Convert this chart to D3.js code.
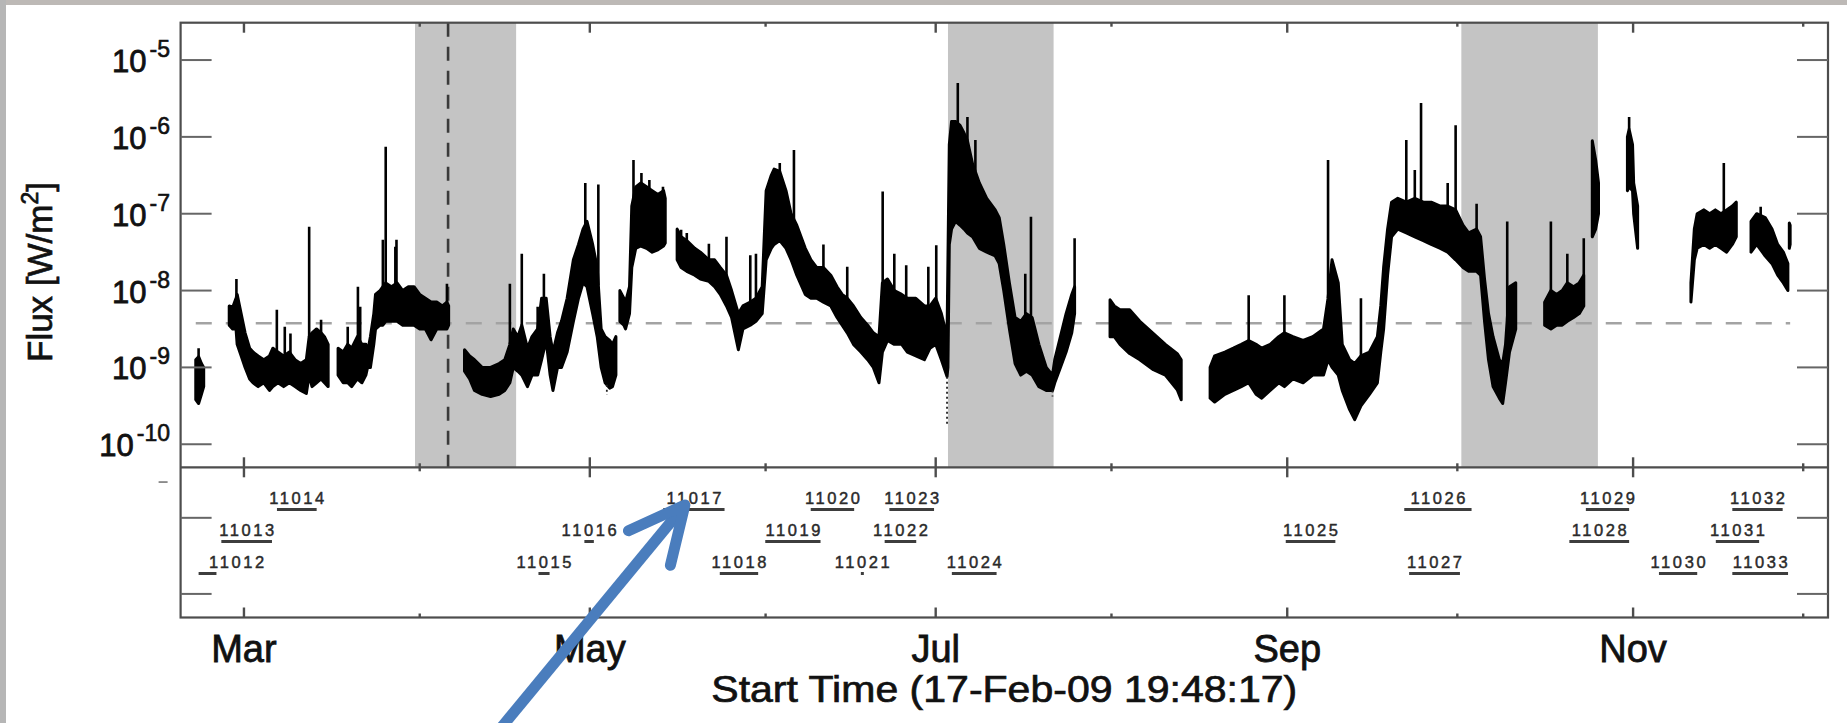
<!DOCTYPE html>
<html><head><meta charset="utf-8">
<script src="https://cdn.jsdelivr.net/npm/d3@7"></script>
<style>body{margin:0;background:#fff;}svg{display:block;}</style>
</head><body>
<svg id="c" width="1847" height="723"></svg>
<script>
// ---------------- DATA ----------------
// times are days after 2009-03-01 00:00 UT; flux values are log10(W/m^2)
const startTime = "2009-02-17T19:48:17Z";
const spanDays = 290.55;
const yTickExponents = [-5, -6, -7, -8, -9, -10];
const monthLabels = ["Mar", "May", "Jul", "Sep", "Nov"];
const thresholdFlux = 3.75e-9;
const markerDate = "2009-04-06T00:00:00Z";
const shadeStart = ["2009-03-31T04:00:00Z", "2009-07-03T04:00:00Z", "2009-10-01T17:00:00Z"];
const shadeEnd   = ["2009-04-18T00:00:00Z", "2009-07-21T19:00:00Z", "2009-10-25T19:00:00Z"];

// envelope of the dense flux record: [day, log10 low, log10 high]; null = data gap
const fluxBand = [
  [-8.5,-9.42,-8.9],[-8.0,-9.47,-8.86],[-7.5,-9.35,-8.95],[-7.1,-9.25,-9.0],
  null,
  [-2.6,-8.45,-8.2],[-2.0,-8.5,-8.22],[-1.4,-8.5,-8.1],[-1.2,-8.7,-8.05],[-0.5,-8.85,-8.3],[0.2,-9.0,-8.55],
  [1.0,-9.15,-8.75],[1.6,-9.2,-8.8],[2.5,-9.25,-8.85],[3.5,-9.2,-8.9],[4.5,-9.3,-8.85],[5.1,-9.25,-8.75],
  [6.0,-9.2,-8.8],[7.0,-9.25,-8.85],[8.0,-9.2,-8.8],[9.0,-9.25,-8.9],[10.0,-9.3,-8.95],[11.0,-9.34,-8.9],
  [11.5,-9.1,-8.6],[12.0,-9.25,-8.55],[12.8,-9.2,-8.5],[13.6,-9.15,-8.55],[14.2,-9.2,-8.6],[14.85,-9.25,-8.7],
  null,
  [16.6,-9.1,-8.75],[17.5,-9.2,-8.8],[18.3,-9.2,-8.7],[19.0,-9.25,-8.75],[20.0,-9.15,-8.6],[20.8,-9.2,-8.7],
  [21.5,-9.1,-8.7],[21.8,-9.0,-8.8],[22.3,-9.0,-8.6],[22.9,-8.7,-8.3],[23.2,-8.5,-8.05],[24.0,-8.45,-8.0],
  [24.5,-8.45,-7.95],[25.0,-8.4,-7.9],[26.0,-8.4,-7.95],[27.0,-8.4,-7.9],[28.0,-8.45,-8.0],[29.0,-8.45,-7.95],
  [30.0,-8.45,-7.95],[31.0,-8.5,-8.05],[32.0,-8.5,-8.1],[33.0,-8.64,-8.15],[34.0,-8.5,-8.15],[35.0,-8.5,-8.2],
  [35.8,-8.5,-8.15],[36.1,-8.45,-8.2],
  null,
  [38.9,-9.05,-8.77],[39.8,-9.15,-8.85],[40.65,-9.3,-8.9],[42.0,-9.35,-9.0],[43.5,-9.38,-9.0],[45.0,-9.35,-8.95],
  [46.0,-9.3,-8.9],[46.9,-9.2,-8.7],[47.5,-9.0,-8.5],[48.3,-9.05,-8.6],[49.0,-9.1,-8.45],[50.0,-9.25,-8.75],
  [50.8,-9.1,-8.6],[51.8,-9.1,-8.5],[52.5,-8.9,-8.1],[53.3,-8.65,-8.1],[54.0,-9.1,-8.6],[54.5,-9.3,-8.8],
  [55.3,-9.0,-8.55],[56.0,-9.0,-8.4],[57.0,-8.8,-8.1],[58.1,-8.4,-7.6],[59.0,-8.1,-7.4],[59.8,-7.9,-7.2],
  [60.5,-7.95,-7.1],[61.5,-8.3,-7.4],[62.3,-8.6,-7.7],[63.0,-9.0,-8.5],[63.7,-9.2,-8.6],[64.5,-9.27,-8.65],
  [65.0,-9.25,-8.7],[65.6,-9.1,-8.6],
  null,
  [66.3,-8.4,-8.0],[67.0,-8.45,-8.1],[67.3,-8.5,-8.15],[68.0,-8.3,-7.95],[68.4,-7.7,-6.9],[69.1,-7.45,-6.65],
  [70.0,-7.42,-6.6],[71.0,-7.45,-6.65],[72.0,-7.5,-6.7],[73.0,-7.47,-6.75],[74.0,-7.42,-6.7],[74.3,-7.38,-6.8],
  null,
  [76.4,-7.6,-7.2],[77.1,-7.7,-7.3],[78.1,-7.75,-7.35],[79.5,-7.8,-7.45],[80.5,-7.85,-7.5],[82.0,-7.88,-7.6],
  [83.0,-7.95,-7.6],[84.0,-8.05,-7.7],[85.1,-8.2,-7.8],[86.0,-8.35,-8.0],[87.2,-8.77,-8.3],[88.0,-8.5,-8.2],
  [89.3,-8.45,-8.15],[90.3,-8.4,-8.1],[91.4,-8.3,-7.95],[92.1,-7.6,-6.7],[93.0,-7.45,-6.5],[93.5,-7.4,-6.42],
  [94.5,-7.35,-6.45],[95.6,-7.45,-6.7],[96.5,-7.6,-7.0],[97.5,-7.8,-7.15],[99.0,-8.05,-7.45],[100.0,-8.1,-7.6],
  [101.0,-8.1,-7.7],[102.2,-8.15,-7.7],[103.5,-8.2,-7.8],[104.6,-8.35,-7.95],[105.5,-8.45,-8.05],[106.4,-8.55,-8.1],
  [107.5,-8.7,-8.2],[108.8,-8.8,-8.35],[110.0,-8.9,-8.45],[111.0,-9.0,-8.55],[112.0,-9.2,-8.6],[112.6,-8.8,-7.9],
  [113.5,-8.65,-7.85],[114.7,-8.7,-8.0],[116.0,-8.7,-8.05],[117.0,-8.8,-8.1],[118.5,-8.85,-8.1],[120.0,-8.9,-8.2],
  [121.0,-8.75,-8.2],[122.0,-8.7,-8.1],[123.0,-8.9,-8.3],[124.0,-9.12,-8.6],[124.16,-9.0,-7.6],[124.4,-7.4,-6.1],
  [124.8,-7.2,-5.8],[125.5,-7.1,-5.8],[126.3,-7.15,-5.85],[127.0,-7.2,-5.95],[127.6,-7.25,-6.05],[128.5,-7.3,-6.35],
  [129.7,-7.45,-6.6],[131.0,-7.5,-6.8],[132.5,-7.55,-6.95],[133.2,-7.65,-7.05],[134.0,-8.0,-7.4],[135.0,-8.5,-7.9],
  [136.0,-8.95,-8.35],[137.0,-9.1,-8.4],[138.0,-9.05,-8.3],[139.0,-9.1,-8.35],[140.2,-9.25,-8.7],[141.5,-9.3,-9.0],
  [142.6,-9.3,-9.1],[143.0,-9.2,-8.9],[144.0,-9.0,-8.6],[145.0,-8.8,-8.3],[146.0,-8.55,-8.05],[146.5,-8.3,-7.95],
  null,
  [152.75,-8.6,-8.12],[153.5,-8.6,-8.2],[154.5,-8.7,-8.25],[156.2,-8.82,-8.25],[158.0,-8.9,-8.4],[160.4,-9.03,-8.56],
  [162.5,-9.1,-8.7],[164.6,-9.29,-8.82],[165.3,-9.42,-8.9],
  null,
  [170.4,-9.4,-9.0],[171.2,-9.45,-8.85],[173.0,-9.35,-8.8],[174.5,-9.3,-8.75],[175.9,-9.25,-8.7],[177.2,-9.2,-8.65],
  [178.5,-9.35,-8.7],[179.5,-9.4,-8.75],[181.0,-9.3,-8.7],[182.5,-9.2,-8.6],[183.5,-9.25,-8.55],[185.0,-9.15,-8.6],
  [186.8,-9.2,-8.65],[188.5,-9.1,-8.6],[190.4,-9.1,-8.5],[191.2,-8.9,-8.1],[191.9,-9.0,-7.6],[193.0,-9.1,-7.9],
  [193.7,-9.3,-8.7],[195.0,-9.55,-8.9],[195.9,-9.68,-8.95],[197.0,-9.5,-8.85],[198.5,-9.35,-8.8],[199.9,-9.2,-8.6],
  [200.5,-8.8,-8.2],[201.0,-8.5,-7.7],[201.7,-7.8,-7.2],[202.4,-7.3,-6.85],[203.5,-7.2,-6.8],[205.0,-7.25,-6.85],
  [206.5,-7.3,-6.8],[208.0,-7.35,-6.85],[209.4,-7.4,-6.85],[211.0,-7.45,-6.9],[212.3,-7.5,-6.9],[213.7,-7.6,-6.95],
  [215.0,-7.7,-7.15],[216.0,-7.75,-7.25],[217.4,-7.75,-7.2],[218.1,-7.8,-7.3],[218.8,-8.4,-7.85],[219.5,-8.9,-8.3],
  [220.3,-9.25,-8.6],[221.4,-9.4,-8.9],[222.0,-9.47,-8.95],[222.5,-9.2,-8.7],[223.2,-8.8,-7.95],[224.3,-8.5,-7.9],
  null,
  [229.4,-8.45,-8.15],[230.5,-8.5,-8.0],[231.5,-8.45,-8.05],[232.5,-8.45,-8.0],[233.4,-8.4,-7.9],[234.5,-8.35,-7.95],
  [235.5,-8.3,-7.9],[236.3,-8.2,-7.8],
  null,
  [237.8,-7.3,-6.05],[238.4,-7.2,-6.3],[238.9,-7.0,-6.6],
  null,
  [244.0,-6.7,-6.0],[244.3,-6.65,-5.9],[244.9,-6.7,-6.1],[245.1,-7.0,-6.6],[245.8,-7.45,-6.9],
  null,
  [255.2,-8.15,-7.9],[255.8,-7.6,-7.2],[256.3,-7.45,-7.0],[257.5,-7.4,-6.95],[258.5,-7.45,-7.0],[259.5,-7.4,-6.95],
  [260.5,-7.45,-7.0],[261.5,-7.5,-6.95],[262.5,-7.4,-6.9],[263.2,-7.3,-6.85],
  null,
  [265.8,-7.5,-7.1],[266.8,-7.4,-7.0],[268.3,-7.55,-7.05],[269.5,-7.65,-7.2],[270.5,-7.8,-7.4],[271.5,-7.9,-7.5],
  [272.3,-8.0,-7.65],
  null,
  [272.55,-7.45,-7.12],[272.7,-7.4,-7.15]
];

// isolated flare spikes: [day, log10 peak]
const fluxSpikes = [
  [-8.0,-8.75],[-1.33,-7.85],[5.8,-8.25],[7.2,-8.47],[8.2,-8.56],[11.5,-7.17],[13.6,-8.38],
  [18.3,-8.47],[20.1,-7.95],[20.5,-8.21],[24.5,-7.34],[25.0,-6.13],[26.7,-7.43],[26.9,-7.34],[35.8,-7.91],
  [46.9,-7.91],[49.0,-7.52],[51.8,-8.21],[52.9,-7.78],[60.2,-6.60],[62.5,-6.62],
  [68.7,-6.30],[70.1,-6.47],[71.5,-6.56],[73.9,-6.65],
  [77.1,-7.21],[78.1,-7.25],[82.0,-7.39],[85.1,-7.30],[89.3,-7.54],[90.3,-7.52],[94.5,-6.34],[97.0,-6.17],
  [102.2,-7.40],[106.4,-7.69],[112.65,-6.71],[114.7,-7.52],[116.8,-7.67],[120.7,-7.69],[122.1,-7.41],
  [125.9,-5.30],[127.6,-5.74],[129.0,-6.04],[137.8,-7.78],[138.8,-7.04],[146.5,-7.32],
  [177.2,-8.06],[183.5,-8.06],[191.2,-6.30],[197.0,-8.10],[205.0,-6.04],[206.5,-6.43],[207.6,-5.56],
  [212.3,-6.60],[213.7,-5.85],[217.4,-6.87],[222.8,-7.10],
  [230.5,-7.10],[233.4,-7.52],[236.3,-7.32],[244.3,-5.74],[261.0,-6.34],[267.5,-6.91]
];
// low outliers: [day, log10 value]
const fluxDips = [[64.0,-9.36],[124.0,-9.77],[142.6,-9.38]];

// NOAA active regions and their disk passage (days after 2009-03-01)
const arNumbers = ["11012","11013","11014","11015","11016","11017","11018","11019","11020","11021","11022",
                   "11023","11024","11025","11026","11027","11028","11029","11030","11031","11032","11033"];
const arStart = [-8.0,-3.99,5.82,51.94,60.04,73.95,83.92,91.94,99.96,108.8,113.0,
                 113.83,124.85,183.74,204.64,205.5,233.76,236.67,249.56,259.59,262.5,262.5];
const arEnd   = [-4.85,4.94,12.82,53.90,61.71,84.76,90.69,101.69,107.62,109.3,118.57,
                 121.71,132.74,192.49,216.51,214.46,244.30,244.30,256.31,267.23,271.38,272.33];
const arrowTarget = "11017";

// ---------------- LAYOUT ----------------
const L = 180.6, R = 1828, T = 22.7, MID = 467.3, B = 617.5;
const FONT = "'Liberation Sans', Arial, Helvetica, sans-serif";
const mar1 = Date.UTC(2009, 2, 1);
const toDate = d => new Date(mar1 + d * 864e5);
const t0 = new Date(startTime);

const x = d3.scaleUtc().domain([t0, new Date(t0.getTime() + spanDays * 864e5)]).range([L, R]);
const y = d3.scaleLog().domain([Math.pow(10, -10.30), Math.pow(10, -4.514)]).range([MID, T]);
const rowY = d3.scaleLinear().domain([1, 3]).range([509.5, 573.5]);

const svg = d3.select("#c");
svg.append("rect").attr("width", 1847).attr("height", 723).attr("fill", "#fff");
// picture frame (scanned figure border)
svg.append("rect").attr("x", 0).attr("y", 0).attr("width", 1847).attr("height", 5).attr("fill", "#bdb9b6");
svg.append("rect").attr("x", 0).attr("y", 0).attr("width", 6).attr("height", 723).attr("fill", "#b6b6b6");

// shaded intervals
svg.append("g").selectAll("rect").data(shadeStart).join("rect")
  .attr("x", (d) => x(new Date(d)))
  .attr("width", (d, i) => x(new Date(shadeEnd[i])) - x(new Date(d)))
  .attr("y", T).attr("height", MID - T).attr("fill", "#c4c4c4");

// threshold dashed line across the data range
const validRows = fluxBand.filter(r => r);
svg.append("line")
  .attr("x1", x(toDate(validRows[0][0]))).attr("x2", x(toDate(validRows[validRows.length - 1][0])))
  .attr("y1", y(thresholdFlux)).attr("y2", y(thresholdFlux))
  .attr("stroke", "#a3a3a3").attr("stroke-width", 2.6).attr("stroke-dasharray", "16,14");

// vertical marker
svg.append("line")
  .attr("x1", x(new Date(markerDate))).attr("x2", x(new Date(markerDate)))
  .attr("y1", T).attr("y2", MID)
  .attr("stroke", "#3a3a3a").attr("stroke-width", 2.6).attr("stroke-dasharray", "14,10");

// clip for data
svg.append("clipPath").attr("id", "clipTop").append("rect")
  .attr("x", L).attr("y", T).attr("width", R - L).attr("height", MID - T);
const gData = svg.append("g").attr("clip-path", "url(#clipTop)");

const bandPts = fluxBand.map(r => r ? { t: toDate(r[0]), lo: r[1], hi: r[2] } : null);
const area = d3.area().defined(d => d !== null)
  .x(d => x(d.t)).y0(d => y(Math.pow(10, d.lo))).y1(d => y(Math.pow(10, d.hi)));
gData.append("path").attr("d", area(bandPts))
  .attr("fill", "#000").attr("stroke", "#000").attr("stroke-width", 3).attr("stroke-linejoin", "round");

function bandAt(day, key) {
  let prev = null, best = null, bestDist = Infinity;
  for (const r of fluxBand) {
    if (r && prev && prev[0] <= day && day <= r[0]) {
      const f = (day - prev[0]) / (r[0] - prev[0] || 1);
      return prev[key] + f * (r[key] - prev[key]);
    }
    if (r) { const dd = Math.abs(r[0] - day); if (dd < bestDist) { bestDist = dd; best = r; } }
    prev = r;
  }
  return best[key];
}
gData.append("g").selectAll("line").data(fluxSpikes).join("line")
  .attr("x1", d => x(toDate(d[0]))).attr("x2", d => x(toDate(d[0])))
  .attr("y1", d => y(Math.pow(10, bandAt(d[0], 2)))).attr("y2", d => y(Math.pow(10, d[1])))
  .attr("stroke", "#000").attr("stroke-width", 2.6);
gData.append("g").selectAll("line").data(fluxDips).join("line")
  .attr("x1", d => x(toDate(d[0]))).attr("x2", d => x(toDate(d[0])))
  .attr("y1", d => y(Math.pow(10, bandAt(d[0], 1)))).attr("y2", d => y(Math.pow(10, d[1])))
  .attr("stroke", "#222").attr("stroke-width", 1.8).attr("stroke-dasharray", "2,3");

// ---------------- AXES ----------------
const axisCol = "#4d4d4d";
const gAx = svg.append("g").attr("stroke", axisCol).attr("fill", "none");
gAx.append("rect").attr("x", L).attr("y", T).attr("width", R - L).attr("height", B - T).attr("stroke-width", 2.2);
gAx.append("line").attr("x1", L).attr("x2", R).attr("y1", MID).attr("y2", MID).attr("stroke-width", 2.2);

// y ticks (upper panel, both sides)
yTickExponents.forEach(e => {
  const yy = y(Math.pow(10, e));
  gAx.append("line").attr("x1", L).attr("x2", L + 31).attr("y1", yy).attr("y2", yy).attr("stroke", "#666").attr("stroke-width", 2);
  gAx.append("line").attr("x1", R - 31).attr("x2", R).attr("y1", yy).attr("y2", yy).attr("stroke", "#666").attr("stroke-width", 2);
});
// lower panel ticks
const lowerY = d3.scaleLinear().domain([-0.31, 1.664]).range([B, MID]);
[0, 1].forEach(v => {
  const yy = lowerY(v);
  gAx.append("line").attr("x1", L).attr("x2", L + 31).attr("y1", yy).attr("y2", yy).attr("stroke", "#666").attr("stroke-width", 2);
  gAx.append("line").attr("x1", R - 31).attr("x2", R).attr("y1", yy).attr("y2", yy).attr("stroke", "#666").attr("stroke-width", 2);
});
gAx.append("line").attr("x1", L - 22).attr("x2", L - 13).attr("y1", lowerY(1.47)).attr("y2", lowerY(1.47)).attr("stroke", "#777").attr("stroke-width", 1.6);

// month ticks
const months = d3.utcMonth.range(new Date(Date.UTC(2009, 2, 1)), new Date(Date.UTC(2009, 11, 2)));
const fmt = d3.utcFormat("%b");
months.forEach(m => {
  const xx = x(m);
  const major = monthLabels.includes(fmt(m));
  const len = major ? 10 : 4;
  gAx.append("line").attr("x1", xx).attr("x2", xx).attr("y1", T).attr("y2", T + len).attr("stroke-width", 2.4);
  gAx.append("line").attr("x1", xx).attr("x2", xx).attr("y1", MID - len).attr("y2", MID + len).attr("stroke-width", 2.4);
  gAx.append("line").attr("x1", xx).attr("x2", xx).attr("y1", B - len).attr("y2", B).attr("stroke-width", 2.4);
});

// month labels
svg.append("g").selectAll("text").data(months.filter(m => monthLabels.includes(fmt(m)))).join("text")
  .attr("x", d => x(d)).attr("y", 661.7).attr("text-anchor", "middle")
  .attr("font-family", FONT).attr("font-size", 38).attr("fill", "#111")
  .attr("stroke", "#111").attr("stroke-width", 0.8).text(d => fmt(d));

// x title
svg.append("text").attr("x", (L + R) / 2).attr("y", 701.7).attr("text-anchor", "middle")
  .attr("font-family", FONT).attr("font-size", 37).attr("fill", "#111")
  .attr("stroke", "#111").attr("stroke-width", 0.7)
  .attr("textLength", 586).attr("lengthAdjust", "spacingAndGlyphs")
  .text("Start Time (17-Feb-09 19:48:17)");

// y tick labels
const gyl = svg.append("g").attr("font-family", FONT).attr("fill", "#111").attr("stroke", "#111").attr("stroke-width", 0.8);
yTickExponents.forEach(e => {
  const t = gyl.append("text").attr("x", 170).attr("y", y(Math.pow(10, e)) + 12).attr("text-anchor", "end").attr("font-size", 31);
  t.append("tspan").text("10");
  t.append("tspan").attr("dy", -15).attr("dx", 3).attr("font-size", 23).attr("stroke-width", 0.6).text(String(e));
});

// y title
const yt = svg.append("text").attr("transform", `translate(52,${(T + MID) / 2 + 27}) rotate(-90)`)
  .attr("text-anchor", "middle").attr("font-family", FONT).attr("font-size", 35).attr("fill", "#111")
  .attr("stroke", "#111").attr("stroke-width", 0.7);
yt.append("tspan").text("Flux [W/m");
yt.append("tspan").attr("dy", -14).attr("font-size", 23).text("2");
yt.append("tspan").attr("dy", 14).text("]");

// ---------------- ACTIVE REGIONS ----------------
const arRow = arNumbers.map(n => 3 - ((+n - 11012) % 3));
const gAR = svg.append("g");
arNumbers.forEach((n, i) => {
  const x0 = x(toDate(arStart[i])), x1 = x(toDate(arEnd[i]));
  const uy = rowY(arRow[i]);
  gAR.append("line").attr("x1", x0).attr("x2", Math.max(x1, x0 + 3)).attr("y1", uy).attr("y2", uy)
    .attr("stroke", "#3d3d3d").attr("stroke-width", 3);
  const cx = Math.max((x0 + x1) / 2, L + 56);
  gAR.append("text").attr("x", cx).attr("y", uy - 5.5).attr("text-anchor", "middle")
    .attr("font-family", FONT).attr("font-size", 16.5).attr("fill", "#2a2a2a")
    .attr("stroke", "#2a2a2a").attr("stroke-width", 0.45)
    .attr("textLength", 55).attr("lengthAdjust", "spacing").text(n);
});

// ---------------- ANNOTATION ARROW ----------------
const ai = arNumbers.indexOf(arrowTarget);
const tipX = Math.max((x(toDate(arStart[ai])) + x(toDate(arEnd[ai]))) / 2, L + 56) - 9;
const tipY = rowY(arRow[ai]) - 4.5;
const tail = [tipX - 184, tipY + 223];
const ang = Math.atan2(tail[1] - tipY, tail[0] - tipX);
const wl = 62, wa = 26 * Math.PI / 180;
const arrowCol = "#4a7dbd";
const ga = svg.append("g").attr("stroke", arrowCol).attr("stroke-width", 11).attr("stroke-linecap", "round").attr("fill", "none");
ga.append("line").attr("x1", tail[0]).attr("y1", tail[1]).attr("x2", tipX).attr("y2", tipY).attr("stroke-linecap", "butt");
ga.append("polyline").attr("stroke-linejoin", "round").attr("points", [
  [tipX + wl * Math.cos(ang + wa), tipY + wl * Math.sin(ang + wa)],
  [tipX, tipY],
  [tipX + wl * Math.cos(ang - wa), tipY + wl * Math.sin(ang - wa)]
].map(p => p.join(",")).join(" "));
</script>
</body></html>
